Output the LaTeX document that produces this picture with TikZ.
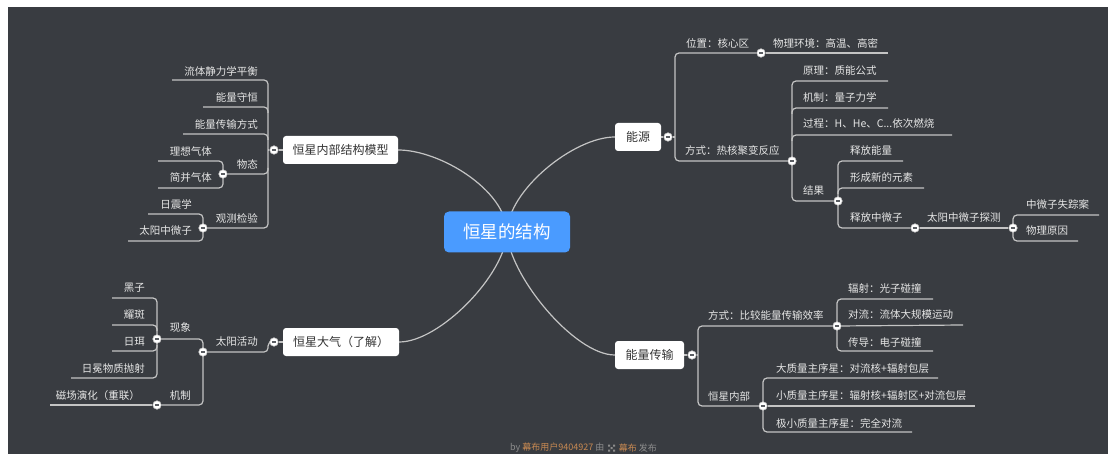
\documentclass[tikz,border=0pt]{standalone}
\usepackage{fontspec}
\setmainfont{Noto Sans CJK SC}
\definecolor{bgc}{HTML}{393C41}
\definecolor{linec}{HTML}{C4C4C4}
\definecolor{txtc}{HTML}{E6E6E6}
\definecolor{topictxt}{HTML}{333333}
\definecolor{rootc}{HTML}{4A9BFF}
\definecolor{footgray}{HTML}{8C8C8C}
\definecolor{footor}{HTML}{C98A52}
\definecolor{minusc}{HTML}{5A5D62}
\pgfdeclarelayer{back}
\pgfdeclarelayer{lines}
\pgfsetlayers{back,lines,main}
\tikzset{
  lbl/.style={text=txtc, font=\fontsize{10.5}{12}\selectfont, inner sep=0pt},
  lblL/.style={lbl, anchor=east},
  lblR/.style={lbl, anchor=west},
  ln/.style={draw=linec, line width=1.2pt, rounded corners=4pt},
  curve/.style={draw=linec, line width=1.2pt},
  btn/.style={circle, fill=white, draw=linec, line width=0.6pt, minimum size=8.5pt, inner sep=0pt,
    path picture={\draw[line width=1.3pt, draw=minusc] ([xshift=-2.2pt]path picture bounding box.center) -- ([xshift=2.2pt]path picture bounding box.center);}},
  topic/.style={fill=white, rounded corners=3pt, text=topictxt, font=\fontsize{12}{14}\selectfont, inner sep=0pt, minimum height=28pt},
  rootbox/.style={fill=rootc, rounded corners=5pt, text=white, font=\fontsize{17.5}{20}\selectfont, inner sep=0pt, minimum width=126pt, minimum height=41pt},
  foot/.style={font=\fontsize{9}{10}\selectfont, inner sep=0pt, anchor=west}
}
\begin{document}
\begin{tikzpicture}[x=1pt,y=-1pt]
\useasboundingbox (0,0) rectangle (1110,454);
\begin{pgfonlayer}{back}
  \fill[white] (0,0) rectangle (1110,454);
  \fill[bgc] (8,7) rectangle (1108,454);
\end{pgfonlayer}

% root and topics
\node[rootbox] (root) at (507,232) {恒星的结构};
\node[topic, minimum width=115pt] (t1) at (340.5,150) {恒星内部结构模型};
\node[topic, minimum width=116pt] (t2) at (341,342) {恒星大气（了解）};
\node[topic, minimum width=46pt] (t3) at (638,137) {能源};
\node[topic, minimum width=69pt] (t4) at (649.5,355) {能量传输};

% buttons
\node[btn] (b1) at (274,150) {};
\node[btn] (b4) at (223,174) {};
\node[btn] (b5) at (203,228) {};
\node[btn] (b2) at (274,342) {};
\node[btn] (b6) at (203,352) {};
\node[btn] (b7) at (157,339) {};
\node[btn] (b8) at (157,405) {};
\node[btn] (b3) at (668,137) {};
\node[btn] (b9) at (761,53) {};
\node[btn] (b10) at (792,161) {};
\node[btn] (b11) at (838,201) {};
\node[btn] (b12) at (915,228) {};
\node[btn] (b13) at (1013,228) {};
\node[btn] (b14) at (692,355) {};
\node[btn] (b15) at (837,326) {};
\node[btn] (b16) at (763,406) {};

% labels: left top
\node[lblL] (l1) at (258,71) {流体静力学平衡};
\node[lblL] (l2) at (258,97) {能量守恒};
\node[lblL] (l3) at (258,124) {能量传输方式};
\node[lblL] (l4) at (258,164) {物态};
\node[lblL] (l41) at (212,151) {理想气体};
\node[lblL] (l42) at (212,178) {简并气体};
\node[lblL] (l5) at (258,218) {观测检验};
\node[lblL] (l51) at (192,204) {日震学};
\node[lblL] (l52) at (192,231) {太阳中微子};
% labels: left bottom
\node[lblL] (m1) at (258,342) {太阳活动};
\node[lblL] (m11) at (191,328) {现象};
\node[lblL] (m12) at (191,396) {机制};
\node[lblL] (m111) at (145,288) {黑子};
\node[lblL] (m112) at (145,315) {耀斑};
\node[lblL] (m113) at (145,342) {日珥};
\node[lblL] (m114) at (145,369) {日冕物质抛射};
\node[lblL] (m121) at (140,396) {磁场演化（重联）};
% labels: right top
\node[lblR] (r1) at (686,43) {位置：核心区};
\node[lblR] (r11) at (773,43) {物理环境：高温、高密};
\node[lblR] (r2) at (685,151) {方式：热核聚变反应};
\node[lblR] (r21) at (803,71) {原理：质能公式};
\node[lblR] (r22) at (803,97) {机制：量子力学};
\node[lblR] (r23) at (803,124) {过程：H、He、C...依次燃烧};
\node[lblR] (r24) at (803,191) {结果};
\node[lblR] (r241) at (850,151) {释放能量};
\node[lblR] (r242) at (850,178) {形成新的元素};
\node[lblR] (r243) at (850,218) {释放中微子};
\node[lblR] (r2431) at (927,218) {太阳中微子探测};
\node[lblR] (r24311) at (1026,204) {中微子失踪案};
\node[lblR] (r24312) at (1026,231) {物理原因};
% labels: right bottom
\node[lblR] (s1) at (708,315) {方式：比较能量传输效率};
\node[lblR] (s11) at (848,288) {辐射：光子碰撞};
\node[lblR] (s12) at (848,315) {对流：流体大规模运动};
\node[lblR] (s13) at (848,342) {传导：电子碰撞};
\node[lblR] (s2) at (708,396) {恒星内部};
\node[lblR] (s21) at (776,369) {大质量主序星：对流核+辐射包层};
\node[lblR] (s22) at (776,396) {小质量主序星：辐射核+辐射区+对流包层};
\node[lblR] (s23) at (776,423) {极小质量主序星：完全对流};

% footer
\node[foot] (f1) at (510,448) {\textcolor{footgray}{by}\ \textcolor{footor}{幕布用户9404927}\ \textcolor{footgray}{由}};
\coordinate (ic) at ([xshift=7pt]f1.east);
\fill[footgray] ([shift={(-3.5pt,-3.5pt)}]ic) rectangle +(2pt,2pt)
                ([shift={(1.5pt,-3.5pt)}]ic) rectangle +(2pt,2pt)
                ([shift={(-1pt,-1pt)}]ic) rectangle +(2pt,2pt)
                ([shift={(-3.5pt,1.5pt)}]ic) rectangle +(2pt,2pt)
                ([shift={(1.5pt,1.5pt)}]ic) rectangle +(2pt,2pt);
\node[foot] (f2) at ([xshift=7pt]ic) {\textcolor{footor}{幕布}\ \textcolor{footgray}{发布}};

\begin{pgfonlayer}{lines}
  % curves from root
  \draw[curve] (root.center) .. controls (506,190) and (440,150) .. (t1.east);
  \draw[curve] (root.center) .. controls (506,274) and (440,342) .. (t2.east);
  \draw[curve] (root.center) .. controls (508,190) and (574,137) .. (t3.west);
  \draw[curve] (root.center) .. controls (508,274) and (574,355) .. (t4.west);

  % left top
  \draw[ln] (t1.west) -- (b1);
  \draw[ln] (b1) -- (268,150);
  \draw[ln] (172,80) -- (268,80) -- (268,228) -- (b5);
  \draw[ln] (203,107) -- (268,107) -- (268,113);
  \draw[ln] (183,134) -- (268,134) -- (268,140);
  \draw[ln] (b4) -- (268,174) -- (268,168);
  \draw[ln] (158,161) -- (223,161) -- (223,188) -- (158,188);
  \draw[ln] (148,214) -- (203,214) -- (203,241) -- (128,241);

  % left bottom
  \draw[ln] (t2.west) -- (b2);
  \draw[ln] (b2) -- (268,342) -- (268,352) -- (b6);
  \draw[ln] (b7) -- (203,339) -- (203,405) -- (b8);
  \draw[ln] (112,298) -- (157,298) -- (157,378) -- (71,378);
  \draw[ln] (112,325) -- (157,325) -- (157,331);
  \draw[ln] (112,351) -- (157,351) -- (157,345);
  \draw[ln] (50,405) -- (b8);

  % right top
  \draw[ln] (t3.east) -- (b3);
  \draw[ln] (b3) -- (675,137);
  \draw[ln] (b9) -- (675,53) -- (675,161) -- (b10);
  \draw[ln] (b9) -- (888,53);
  \draw[ln] (888,81) -- (792,81) -- (792,201) -- (b11);
  \draw[ln] (888,108) -- (792,108) -- (792,114);
  \draw[ln] (952,135) -- (792,135) -- (792,141);
  \draw[ln] (903,161) -- (838,161) -- (838,228) -- (b12);
  \draw[ln] (924,188) -- (838,188) -- (838,194);
  \draw[ln] (b12) -- (b13);
  \draw[ln] (1099,215) -- (1013,215) -- (1013,241) -- (1078,241);

  % right bottom
  \draw[ln] (t4.east) -- (b14);
  \draw[ln] (b14) -- (698,355);
  \draw[ln] (b15) -- (698,326) -- (698,406) -- (b16);
  \draw[ln] (933,299) -- (837,299) -- (837,351) -- (933,351);
  \draw[ln] (b15) -- (963,325);
  \draw[ln] (938,378) -- (763,378) -- (763,432) -- (912,432);
  \draw[ln] (b16) -- (975,406);
\end{pgfonlayer}
\end{tikzpicture}
\end{document}
